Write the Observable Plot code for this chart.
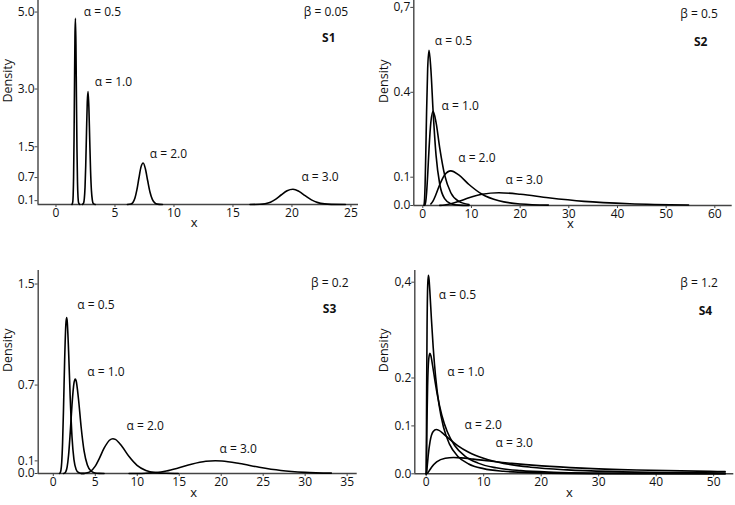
<!DOCTYPE html>
<html><head><meta charset="utf-8">
<script src="https://cdn.jsdelivr.net/npm/d3@7"></script>
<script src="https://cdn.jsdelivr.net/npm/@observablehq/plot@0.6"></script>
<style>
body{margin:0;background:#fff;}
#chart{position:relative;width:735px;height:505px;background:#fff;overflow:hidden;}
#chart svg{position:absolute;}
</style></head><body><div id="chart"></div>
<script>
const alphas = ["0.5","1.0","2.0","3.0"];
const betas = ["0.05","0.5","0.2","1.2"];
const panelNames = ["S1","S2","S3","S4"];

// S1 (beta = 0.05) density curves [x, density]
const s1a05 = [[1.3499,0.0020],[1.4191,0.0625],[1.4550,0.2409],[1.4918,0.7238],[1.5296,1.6935],[1.5683,3.0858],[1.6080,4.3789],[1.6487,4.8394],[1.6905,4.1652],[1.7333,2.7920],[1.7771,1.4576],[1.8221,0.5926],[1.8682,0.1876],[1.9155,0.0463],[2.0138,0.0013]];
const s1a10 = [[2.2255,0.0012],[2.3397,0.0379],[2.3989,0.1461],[2.4596,0.4390],[2.5219,1.0272],[2.5857,1.8716],[2.6512,2.6559],[2.7183,2.9352],[2.7871,2.5264],[2.8577,1.6935],[2.9300,0.8841],[3.0042,0.3594],[3.0802,0.1138],[3.1582,0.0281],[3.3201,0.0008]];
const s1a20 = [[6.0496,0.0004],[6.3598,0.0139],[6.5208,0.0538],[6.6859,0.1615],[6.8552,0.3779],[7.0287,0.6885],[7.2066,0.9771],[7.3891,1.0798],[7.5761,0.9294],[7.7679,0.6230],[7.9646,0.3252],[8.1662,0.1322],[8.3729,0.0419],[8.5849,0.0103],[9.0250,0.0003]];
const s1a30 = [[16.4446,0.0002],[17.2878,0.0051],[17.7254,0.0198],[18.1741,0.0594],[18.6342,0.1390],[19.1060,0.2533],[19.5897,0.3594],[20.0855,0.3972],[20.5940,0.3419],[21.1153,0.2292],[21.6499,0.1196],[22.1980,0.0486],[22.7599,0.0154],[23.3361,0.0038],[24.5327,0.0001]];

// S2 (beta = 0.5)
const s2a05 = [[0.2231,0.0012],[0.2865,0.0061],[0.3679,0.0241],[0.4724,0.0742],[0.6065,0.1780],[0.7788,0.3326],[1.0000,0.4839],[1.2840,0.5484],[1.6487,0.4839],[2.1170,0.3326],[2.7183,0.1780],[3.4903,0.0742],[4.4817,0.0241],[5.7546,0.0061],[7.3891,0.0012],[9.4877,0.0002]];
const s2a10 = [[0.3679,0.0007],[0.4724,0.0037],[0.6065,0.0146],[0.7788,0.0450],[1.0000,0.1080],[1.2840,0.2017],[1.6487,0.2935],[2.1170,0.3326],[2.7183,0.2935],[3.4903,0.2017],[4.4817,0.1080],[5.7546,0.0450],[7.3891,0.0146],[9.4877,0.0037]];
const s2a20 = [[1.6487,0.0054],[2.1170,0.0166],[2.7183,0.0397],[3.4903,0.0742],[4.4817,0.1080],[5.7546,0.1224],[7.3891,0.1080],[9.4877,0.0742],[12.1825,0.0397],[15.6426,0.0166],[20.0855,0.0054],[25.7903,0.0014]];
const s2a30 = [[3.4903,0.0005],[4.4817,0.0020],[5.7546,0.0061],[7.3891,0.0146],[9.4877,0.0273],[12.1825,0.0397],[15.6426,0.0450],[20.0855,0.0397],[25.7903,0.0273],[33.1155,0.0146],[42.5211,0.0061],[54.5982,0.0020]];

// S3 (beta = 0.2)
const s3a05 = [[0.7408,0.0009],[0.8187,0.0053],[0.9048,0.0245],[1.0000,0.0876],[1.1052,0.2443],[1.2214,0.5302],[1.3499,0.8963],[1.4918,1.1800],[1.5841,1.2343],[1.6487,1.2099],[1.8221,0.9661],[2.0138,0.6008],[2.2255,0.2910],[2.4596,0.1098],[2.7183,0.0322],[3.0042,0.0074],[3.3201,0.0013],[3.6693,0.0002]];
const s3a10 = [[1.2214,0.0005],[1.3499,0.0032],[1.4918,0.0149],[1.6487,0.0532],[1.8221,0.1482],[2.0138,0.3216],[2.2255,0.5436],[2.4596,0.7157],[2.6117,0.7486],[2.7183,0.7338],[3.0042,0.5860],[3.3201,0.3644],[3.6693,0.1765],[4.0552,0.0666],[4.4817,0.0196],[4.9530,0.0045],[5.4739,0.0008],[6.0496,0.0001]];
const s3a20 = [[3.3201,0.0002],[3.6693,0.0012],[4.0552,0.0055],[4.4817,0.0196],[4.9530,0.0545],[5.4739,0.1183],[6.0496,0.2000],[6.6859,0.2633],[7.0993,0.2754],[7.3891,0.2700],[8.1662,0.2156],[9.0250,0.1341],[9.9742,0.0649],[11.0232,0.0245],[12.1825,0.0072],[13.4637,0.0016],[14.8797,0.0003]];
const s3a30 = [[9.0250,0.0001],[9.9742,0.0004],[11.0232,0.0020],[12.1825,0.0072],[13.4637,0.0201],[14.8797,0.0435],[16.4446,0.0736],[18.1741,0.0969],[19.2980,0.1013],[20.0855,0.0993],[22.1980,0.0793],[24.5325,0.0493],[27.1126,0.0239],[29.9641,0.0090],[33.1155,0.0026]];

// S4 (beta = 1.2)
const s4a05 = [[0,0],[0.0136,0.0082],[0.0247,0.0294],[0.0450,0.0820],[0.0821,0.1779],[0.1496,0.3008],[0.2725,0.3960],[0.3906,0.4143],[0.4966,0.4061],[0.6703,0.3744],[0.9048,0.3242],[1.2214,0.2638],[1.6487,0.2016],[2.2255,0.1448],[3.0042,0.0977],[4.0552,0.0619],[5.4739,0.0368],[7.3891,0.0206],[9.9742,0.0108],[13.4637,0.0053],[18.1741,0.0025],[33.1155,0.0004],[52,0.0001]];
const s4a10 = [[0,0],[0.0224,0.0050],[0.0408,0.0178],[0.0743,0.0497],[0.1353,0.1079],[0.2466,0.1824],[0.4493,0.2402],[0.6440,0.2513],[0.8187,0.2463],[1.1052,0.2271],[1.4918,0.1967],[2.0138,0.1600],[2.7183,0.1223],[3.6693,0.0878],[4.9530,0.0592],[6.6859,0.0375],[9.0250,0.0223],[12.1825,0.0125],[16.4446,0.0066],[22.1980,0.0032],[29.9641,0.0015],[40.4473,0.0007],[52,0.0003]];
const s4a20 = [[0,0],[0.0608,0.0018],[0.1108,0.0066],[0.2019,0.0183],[0.3679,0.0397],[0.6703,0.0671],[1.2214,0.0884],[1.7507,0.0924],[2.2255,0.0906],[3.0042,0.0835],[4.0552,0.0723],[5.4739,0.0589],[7.3891,0.0450],[9.9742,0.0323],[13.4637,0.0218],[18.1741,0.0138],[24.5325,0.0082],[33.1155,0.0046],[44.7012,0.0024],[52,0.0017]];
const s4a30 = [[0,0],[0.1653,0.0007],[0.3012,0.0024],[0.5488,0.0067],[1.0000,0.0146],[1.8221,0.0247],[3.3201,0.0325],[4.7588,0.0340],[6.0496,0.0333],[8.1662,0.0307],[11.0232,0.0266],[14.8797,0.0217],[20.0855,0.0166],[27.1126,0.0119],[36.5982,0.0080],[49.4024,0.0051],[52,0.0047]];

// ticks
const s1XTicks = [0,5,10,15,20,25];
const s1YTicks = [0.1,0.7,1.5,3.0,5.0];
const s1YTickLabels = ["0.1","0.7","1.5","3.0","5.0"];
const s2XTicks = [0,10,20,30,40,50,60];
const s2YTicks = [0,0.1,0.4,0.7];
const s2YTickLabels = ["0.0","0.1","0.4","0,7"];
const s3XTicks = [0,5,10,15,20,25,30,35];
const s3YTicks = [0,0.1,0.7,1.5];
const s3YTickLabels = ["0.0","0.1","0.7","1.5"];
const s4XTicks = [0,10,20,30,40,50];
const s4YTicks = [0,0.1,0.2,0.4];
const s4YTickLabels = ["0.0","0.1","0.2","0,4"];

// annotation anchors (data units)
const s1LabelX = [2.36,3.29,7.95,20.8];
const s1LabelY = [5.0,3.18,1.30,0.705];
const s2LabelX = [2.47,3.84,7.27,17.0];
const s2LabelY = [0.581,0.350,0.169,0.091];
const s3LabelX = [2.85,4.04,8.72,19.8];
const s3LabelY = [1.33,0.80,0.375,0.19];
const s4LabelX = [2.19,3.65,6.66,12.05];
const s4LabelY = [0.372,0.212,0.101,0.064];
const betaX = [21.0,52.9,30.7,44.2];
const betaY = [5.0,0.675,1.51,0.399];
const tagX = [22.55,55.7,32.1,47.4];
const tagY = [4.31,0.577,1.30,0.339];

const FONT = "'Open Sans', 'Noto Sans', sans-serif";
const AXIS = "#444";
const INK = "#111";
const FS = 12;

function panel(p, cfg) {
  const rows = cfg.curves.flatMap((pts, i) => pts.map(([x, y]) => ({x, y, a: alphas[i]})));
  const fmt = new Map(cfg.yTicks.map((t, i) => [t, cfg.yTickLabels[i]]));
  const svg = Plot.plot({
    width: cfg.width, height: cfg.height,
    marginLeft: cfg.mL, marginRight: cfg.mR, marginTop: cfg.mT, marginBottom: cfg.mB,
    x: {domain: cfg.xDomain},
    y: {domain: cfg.yDomain},
    style: {fontFamily: FONT, fontSize: FS + "px", color: INK, background: "transparent", overflow: "visible"},
    marks: [
      Plot.ruleY([cfg.yDomain[0]], {stroke: AXIS, strokeWidth: 1.6}),
      Plot.ruleX([cfg.xDomain[0]], {stroke: AXIS, strokeWidth: 1.4}),
      Plot.axisX({ticks: cfg.xTicks, tickSize: 3, tickPadding: 1, label: null, stroke: AXIS, fill: INK, fontSize: FS}),
      Plot.axisY({ticks: cfg.yTicks, tickFormat: d => fmt.get(d), tickSize: 3, tickPadding: 0.5, label: null, stroke: AXIS, fill: INK, fontSize: FS}),
      Plot.line(rows, {x: "x", y: "y", z: "a", curve: "monotone-x", stroke: "#000", strokeWidth: 1.6}),
      Plot.text(alphas, {x: (d, i) => cfg.labelX[i], y: (d, i) => cfg.labelY[i], text: d => "α = " + d, textAnchor: "start", fill: INK, fontSize: FS}),
      Plot.text([betas[p]], {x: () => betaX[p], y: () => betaY[p], text: d => "β = " + d, textAnchor: "start", fill: INK, fontSize: FS}),
      Plot.text([panelNames[p]], {x: () => tagX[p], y: () => tagY[p], text: d => d, textAnchor: "start", fill: INK, fontWeight: "bold", fontSize: FS}),
      Plot.text(["x"], {frameAnchor: "bottom", dy: cfg.xLabelDy, dx: cfg.xLabelDx, fill: INK, fontSize: 13}),
      Plot.text(["Density"], {frameAnchor: "left", rotate: -90, dx: cfg.yLabelDx, fill: INK, fontSize: 12.5})
    ]
  });
  svg.style.left = cfg.left + "px";
  svg.style.top = cfg.top + "px";
  document.getElementById("chart").append(svg);
}

panel(0, {curves: [s1a05, s1a10, s1a20, s1a30], xTicks: s1XTicks, yTicks: s1YTicks, yTickLabels: s1YTickLabels,
  labelX: s1LabelX, labelY: s1LabelY, left: 0, top: 0, width: 365, height: 250,
  mL: 37.5, mR: 7, mT: 0, mB: 46, xDomain: [-1.525, 25.64], yDomain: [0, 5.30],
  yLabelDx: -30.2, xLabelDy: 22, xLabelDx: -4});
panel(1, {curves: [s2a05, s2a10, s2a20, s2a30], xTicks: s2XTicks, yTicks: s2YTicks, yTickLabels: s2YTickLabels,
  labelX: s2LabelX, labelY: s2LabelY, left: 365, top: 0, width: 370, height: 250,
  mL: 48.3, mR: 3.3, mT: 0, mB: 45, xDomain: [-1.85, 63.57], yDomain: [0, 0.7244],
  yLabelDx: -30, xLabelDy: 22.2, xLabelDx: -2.5});
panel(2, {curves: [s3a05, s3a10, s3a20, s3a30], xTicks: s3XTicks, yTicks: s3YTicks, yTickLabels: s3YTickLabels,
  labelX: s3LabelX, labelY: s3LabelY, left: 0, top: 250, width: 365, height: 255,
  mL: 37.7, mR: 8.3, mT: 20, mB: 32, xDomain: [-1.8, 36.2], yDomain: [0, 1.607],
  yLabelDx: -30.4, xLabelDy: 23.5, xLabelDx: -4});
panel(3, {curves: [s4a05, s4a10, s4a20, s4a30], xTicks: s4XTicks, yTicks: s4YTicks, yTickLabels: s4YTickLabels,
  labelX: s4LabelX, labelY: s4LabelY, left: 365, top: 250, width: 370, height: 255,
  mL: 49.3, mR: 1.7, mT: 20, mB: 31.7, xDomain: [-1.98, 53.5], yDomain: [0, 0.4244],
  yLabelDx: -31, xLabelDy: 22.9, xLabelDx: -5});
</script></body></html>
